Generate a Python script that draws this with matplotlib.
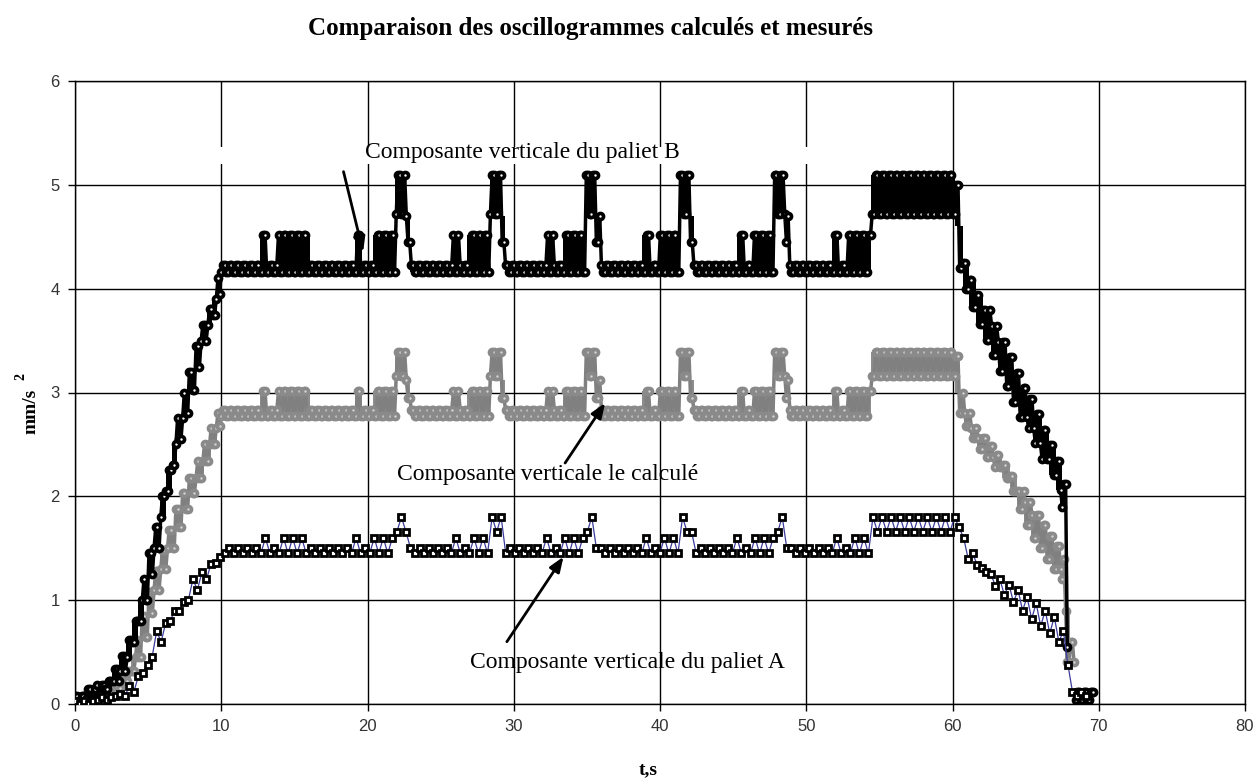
import numpy as np
import matplotlib
matplotlib.use("Agg")
import matplotlib.pyplot as plt
from matplotlib.patches import Rectangle

# ---------------- data ----------------
# event times (s) of the repeating pattern
single_spikes = [12.9, 19.4, 26.0, 32.5, 39.0, 45.5, 52.0]
multi_starts = [13.9, 20.4, 26.8, 33.4, 39.9, 46.4, 52.8]
multi_ends = [16.1, 21.9, 28.4, 34.9, 41.3, 47.8, 54.4]
peak_starts = [21.9, 28.4, 34.9, 41.3, 47.8]
high_start = 54.4

# Composante verticale du paliet B (envelope: start time, low, high)
B_rise_t = [0.0, 0.7, 1.4, 2.0, 2.5, 3.0, 3.5, 3.9, 4.3, 4.7, 5.0, 5.4, 5.8, 6.2, 6.6, 7.0, 7.4, 7.8, 8.2, 8.6, 9.0, 9.4, 9.7]
B_rise_lo = [0.02, 0.06, 0.10, 0.14, 0.22, 0.32, 0.45, 0.60, 0.80, 1.00, 1.25, 1.50, 1.80, 2.05, 2.30, 2.55, 2.80, 3.02, 3.25, 3.50, 3.65, 3.75, 3.95]
B_rise_hi = [0.08, 0.14, 0.18, 0.22, 0.34, 0.46, 0.62, 0.80, 1.00, 1.20, 1.45, 1.70, 2.00, 2.25, 2.50, 2.75, 3.00, 3.20, 3.45, 3.65, 3.80, 3.90, 4.10]
B_levels = {"flat": (4.165, 4.225), "spike": 4.52, "peak": (4.72, 5.09), "after": (4.45, 4.70)}
B_fall_t = [60.2, 60.4, 60.7, 61.1, 61.6, 62.1, 62.6, 63.1, 63.6, 64.1, 64.6, 65.1, 65.6, 66.1, 66.6, 67.1, 67.5, 67.75, 67.9, 68.4, 69.6]
B_fall_lo = [4.60, 4.20, 4.00, 3.82, 3.66, 3.51, 3.36, 3.21, 3.06, 2.91, 2.76, 2.66, 2.51, 2.36, 2.21, 2.06, 1.90, 0.55, np.nan, 0.04, np.nan]
B_fall_hi = [5.00, 4.60, 4.25, 4.08, 3.94, 3.79, 3.64, 3.49, 3.34, 3.19, 3.04, 2.94, 2.79, 2.64, 2.49, 2.34, 2.12, 1.20, np.nan, 0.12, np.nan]

# Composante verticale le calculé
C_rise_t = [0.0, 1.0, 2.0, 2.7, 3.3, 3.8, 4.2, 4.6, 5.0, 5.4, 5.8, 6.3, 6.8, 7.3, 7.8, 8.3, 8.8, 9.3, 9.7]
C_rise_lo = [0.02, 0.05, 0.10, 0.15, 0.22, 0.32, 0.45, 0.65, 0.88, 1.10, 1.30, 1.50, 1.70, 1.88, 2.03, 2.18, 2.34, 2.50, 2.68]
C_rise_hi = [0.06, 0.10, 0.16, 0.22, 0.32, 0.45, 0.62, 0.85, 1.08, 1.28, 1.48, 1.68, 1.88, 2.03, 2.18, 2.34, 2.50, 2.66, 2.80]
C_levels = {"flat": (2.775, 2.835), "spike": 3.01, "peak": (3.16, 3.39), "after": (2.95, 3.12)}
C_fall_t = [60.2, 60.4, 60.8, 61.2, 61.7, 62.3, 62.8, 63.4, 63.9, 64.4, 64.9, 65.4, 65.9, 66.4, 66.9, 67.4, 67.7, 68.0, 68.4, 68.6, 69.6]
C_fall_lo = [3.00, 2.80, 2.68, 2.56, 2.46, 2.38, 2.28, 2.18, 2.05, 1.88, 1.72, 1.60, 1.50, 1.40, 1.30, 1.20, 0.40, 0.40, np.nan, 0.05, np.nan]
C_fall_hi = [3.35, 3.00, 2.80, 2.66, 2.56, 2.48, 2.40, 2.30, 2.20, 2.05, 1.95, 1.82, 1.72, 1.62, 1.52, 1.40, 0.90, 0.60, np.nan, 0.12, np.nan]

# Composante verticale du paliet A
A_rise_t = [0.0, 1.5, 2.7, 3.6, 4.1, 4.6, 5.0, 5.5, 6.0, 6.5, 7.0, 7.5, 8.0, 8.5, 9.0, 9.5]
A_rise_lo = [0.00, 0.04, 0.08, 0.12, 0.20, 0.30, 0.45, 0.60, 0.70, 0.80, 0.90, 1.00, 1.10, 1.20, 1.28, 1.36]
A_rise_hi = [0.03, 0.07, 0.10, 0.17, 0.27, 0.38, 0.55, 0.70, 0.78, 0.90, 0.98, 1.10, 1.20, 1.27, 1.35, 1.42]
A_levels = {"flat": (1.45, 1.50), "spike": 1.60, "peak": (1.66, 1.80), "after": (1.50, 1.66)}
A_fall_t = [60.2, 60.5, 60.9, 61.4, 61.9, 62.4, 62.9, 63.4, 64.0, 64.6, 65.2, 65.8, 66.4, 67.0, 67.5, 67.8, 68.2, 69.4]
A_fall_lo = [1.70, 1.50, 1.40, 1.34, 1.27, 1.20, 1.14, 1.05, 0.98, 0.90, 0.82, 0.75, 0.68, 0.60, 0.55, 0.38, 0.08, np.nan]
A_fall_hi = [1.78, 1.60, 1.45, 1.38, 1.31, 1.25, 1.20, 1.15, 1.10, 1.03, 0.97, 0.90, 0.84, 0.78, 0.70, 0.45, 0.12, np.nan]

t_ticks = [0, 10, 20, 30, 40, 50, 60, 70, 80]
v_ticks = [0, 1, 2, 3, 4, 5, 6]


def envelope(rise_t, rise_lo, rise_hi, lv, fall_t, fall_lo, fall_hi, single_w):
    flat_lo, flat_hi = lv["flat"]
    ev = []  # (time, priority, lo, hi)
    ev.append((9.95, 0, flat_lo, flat_hi))
    for s in single_spikes:
        ev.append((s - single_w / 2, 1, flat_lo, lv["spike"]))
        ev.append((s + single_w / 2, 0, flat_lo, flat_hi))
    for a, b in zip(multi_starts, multi_ends):
        ev.append((a, 1, flat_lo, lv["spike"]))
        ev.append((b, 0, flat_lo, flat_hi))
    for p in peak_starts:
        ev.append((p, 2, *lv["peak"]))
        ev.append((p + 0.75, 2, *lv["after"]))
        ev.append((p + 1.0, 2, flat_lo, flat_hi))
    ev.append((high_start, 3, *lv["peak"]))
    ev.sort(key=lambda e: (e[0], e[1]))
    mid = {}
    for tt, pr, lo, hi in ev:
        mid[round(tt, 3)] = (lo, hi)
    mid_t = sorted(mid)
    T = list(rise_t) + mid_t + list(fall_t)
    LO = list(rise_lo) + [mid[k][0] for k in mid_t] + list(fall_lo)
    HI = list(rise_hi) + [mid[k][1] for k in mid_t] + list(fall_hi)
    return np.array(T), np.array(LO), np.array(HI)


def samples(T, LO, HI, dt, per_level=1):
    ts = np.arange(0.0, T[-1], dt)
    idx = np.searchsorted(T, ts, side="right") - 1
    phase = (np.arange(len(ts)) // per_level) % 2
    vals = np.where(phase == 0, HI[idx], LO[idx])
    return ts, vals


fig = plt.figure(figsize=(12.58, 7.80), dpi=100)
ax = fig.add_axes([75 / 1258, 1 - 704 / 780, (1245 - 75) / 1258, (704 - 81) / 780])

envB = envelope(B_rise_t, B_rise_lo, B_rise_hi, B_levels, B_fall_t, B_fall_lo, B_fall_hi, 0.46)
envC = envelope(C_rise_t, C_rise_lo, C_rise_hi, C_levels, C_fall_t, C_fall_lo, C_fall_hi, 0.46)
envA = envelope(A_rise_t, A_rise_lo, A_rise_hi, A_levels, A_fall_t, A_fall_lo, A_fall_hi, 0.62)
tB, vB = samples(*envB, 0.115, 2)
tC, vC = samples(*envC, 0.115, 2)
tA, vA = samples(*envA, 0.31, 1)

ax.fill_between(envC[0], envC[1], envC[2], step="post", color="#8c8c8c", lw=0, zorder=2.6)
ax.plot(tC, vC, color="#808080", lw=2.5, marker="o", ms=4.4, mfc="#d4d4d4", mec="#8a8a8a", mew=2.6, zorder=3)
ax.fill_between(envB[0], envB[1], envB[2], step="post", color="black", lw=0, zorder=3.6)
ax.plot(tB, vB, color="black", lw=2.5, marker="o", ms=4.4, mfc="white", mec="black", mew=2.6, zorder=4)
ax.plot(tA, vA, color="#3c3c9c", lw=0.9, marker="s", ms=4.6, mfc="white", mec="black", mew=2.0, zorder=5)

ax.set_xlim(0, 80)
ax.set_ylim(0, 6)
ax.set_xticks(t_ticks)
ax.set_yticks(v_ticks)
ax.grid(True, color="black", lw=1.0)
ax.set_axisbelow(True)
for s in ax.spines.values():
    s.set_linewidth(1.0)
    s.set_color("black")
ax.tick_params(direction="out", length=5, width=1, labelsize=12, labelcolor="#333333", pad=6)
for lab in ax.get_xticklabels() + ax.get_yticklabels():
    lab.set_family("Liberation Sans")

# white text box hiding part of the grid
ax.add_patch(Rectangle((9.0, 5.20), 50.0, 0.16, facecolor="white", edgecolor="none", zorder=1))

serif = "Liberation Serif"
fig.text(591 / 1258, 1 - 28 / 780, "Comparaison des oscillogrammes calculés et mesurés",
         ha="center", va="center", fontsize=18, fontweight="bold", family=serif)
fig.text(31 / 1258, 1 - 411 / 780, "mm/s", rotation=90, ha="center", va="center",
         fontsize=14, fontweight="bold", family=serif)
fig.text(21 / 1258, 1 - 376 / 780, "2", rotation=90, ha="center", va="center",
         fontsize=10, fontweight="bold", family=serif)
fig.text(648 / 1258, 1 - 770 / 780, "t,s", ha="center", va="center", fontsize=14,
         fontweight="bold", family=serif)

ax.text(19.84, 5.316, "Composante verticale du paliet B", ha="left", va="center", fontsize=17, family=serif, zorder=6)
ax.text(22.02, 2.206, "Composante verticale le calculé", ha="left", va="center", fontsize=17, family=serif, zorder=6)
ax.text(27.02, 0.395, "Composante verticale du paliet A", ha="left", va="center", fontsize=17, family=serif, zorder=6)

arrow = dict(arrowstyle="-|>,head_length=0.9,head_width=0.35", color="black", lw=2.0, shrinkA=0, shrinkB=0)
ax.annotate("", xy=(19.7, 4.354), xytext=(18.36, 5.127), arrowprops=arrow, zorder=7)
ax.annotate("", xy=(36.25, 2.899), xytext=(33.51, 2.321), arrowprops=arrow, zorder=7)
ax.annotate("", xy=(33.40, 1.418), xytext=(29.53, 0.600), arrowprops=arrow, zorder=7)

fig.savefig("out.png", dpi=100)
